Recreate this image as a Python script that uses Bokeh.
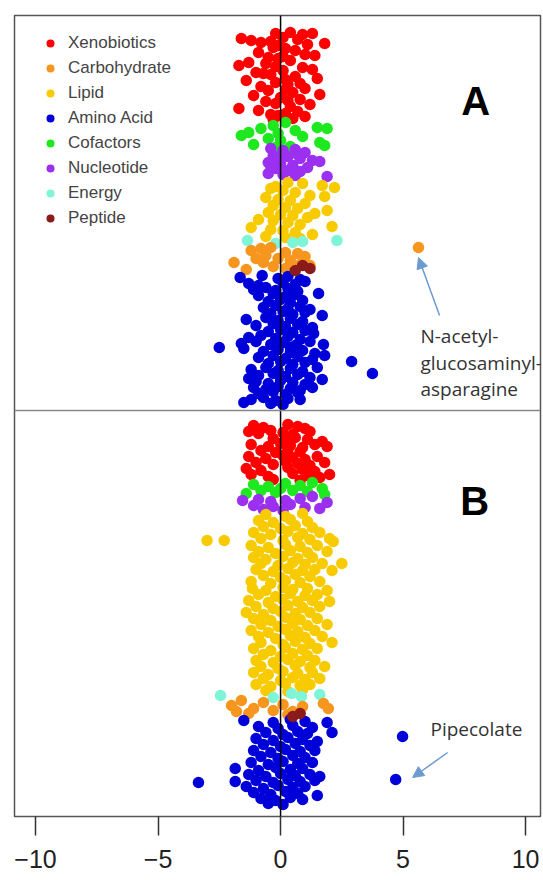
from bokeh.plotting import figure
from bokeh.models import (Range1d, Span, Label, Arrow, NormalHead, Legend, LegendItem,
                          FixedTicker, ColumnDataSource)
from bokeh.embed import file_html
from bokeh.resources import INLINE

categories = ["Xenobiotics", "Carbohydrate", "Lipid", "Amino Acid",
              "Cofactors", "Nucleotide", "Energy", "Peptide"]
colors = ["#FF0000", "#F7961E", "#F7CB00", "#0000D8",
          "#1EE81E", "#9B30F0", "#7FF5D8", "#8B1A1A"]

tick_values = [-10, -5, 0, 5, 10]
tick_labels = ["\u221210", "\u22125", "0", "5", "10"]

# (effect, strip position) pairs; panel A above, panel B below
a_xenobiotics = [(-0.2,33),(0.4,32),(0.9,34),(1.3,33),(-1.6,38),(-1.2,40),(-0.8,42),(-0.4,41),(0.1,37),(0.7,39),
    (1.1,44),(1.8,43),(-0.3,47),(0.2,48),(0.6,50),(-0.9,52),(1.0,54),(1.4,55),(-0.1,58),(0.4,60),(-0.6,63),(-1.3,62),
    (-1.7,65),(0.9,67),(1.3,69),(0.1,70),(-1.0,72),(-0.4,74),(0.6,76),(1.5,78),(-1.4,80),(-0.2,82),(0.3,84),(-0.8,86),
    (1.0,88),(-0.5,90),(0.5,92),(1.6,94),(-1.1,95),(0.0,97),(0.8,99),(-0.6,101),(-0.2,103),(1.2,104),(0.4,106),
    (-1.7,108),(-0.9,110),(0.7,111),(0.2,113),(-0.4,114),(1.0,116),(-0.1,115),(-0.1,45),(0.1,56),(-0.2,66),(0.2,79),
    (0.2,89),(0.3,100),(-0.5,57),(0.8,83),(-0.7,73),(0.5,118),(-0.3,119)]
a_cofactors = [(-0.3,125),(0.2,122),(-0.8,128),(-1.3,132),(-1.6,135),(0.6,130),(1.5,127),(1.9,128),(-0.5,138),
    (0.0,140),(0.9,136),(1.6,142),(1.8,145),(-1.1,144),(-0.2,147),(-0.1,133),(0.4,146)]
a_nucleotide = [(-0.4,148),(0.1,150),(0.6,149),(1.0,152),(-0.3,155),(0.3,156),(0.8,158),(1.3,160),(-0.5,162),
    (0.0,163),(0.5,165),(1.1,167),(-0.2,168),(0.3,170),(0.8,171),(-0.5,173),(0.1,174),(0.6,175),(1.9,176),
    (-0.1,158),(-0.4,166),(0.7,154),(1.6,161)]
a_lipid = [(0.3,182),(0.9,183),(1.7,185),(2.2,187),(-0.4,188),(0.1,190),(0.6,192),(1.2,195),(-0.6,197),(-0.1,199),
    (0.4,200),(1.0,203),(-0.3,205),(0.2,207),(0.7,208),(1.9,210),(-0.5,212),(0.0,214),(0.5,215),(1.1,217),(-0.9,219),
    (-0.3,220),(0.3,222),(0.8,224),(2.1,226),(-1.2,227),(-0.4,229),(0.1,230),(0.6,232),(1.3,234),(-0.6,236),(0.2,237),
    (0.8,238),(-0.2,186),(1.8,196),(1.4,213)]
a_energy = [(-1.35,240),(2.3,240),(0.5,242),(0.9,241),(-0.2,243)]
a_carbohydrate = [(-0.8,248),(-0.4,247),(-1.2,250),(0.2,252),(0.7,253),(-0.6,255),(1.0,256),(-1.0,258),(-0.1,258),
    (0.4,260),(-1.9,262),(-0.7,262),(0.8,264),(-0.3,266),(1.2,265),(0.2,268),(-1.4,269),(5.63,247)]
a_peptide = [(0.9,265),(1.2,268),(0.6,270)]
a_amino = [(-1.65,277),(-0.75,275),(-0.1,278),(0.3,276),(0.8,279),(-1.3,283),(-0.9,285),(0.1,282),(0.6,284),(1.0,281),
    (-1.1,289),(-0.6,287),(-0.2,290),(0.3,288),(0.7,291),(-0.9,295),(-0.3,293),(0.2,296),(0.6,294),(1.55,293),
    (-0.5,301),(0.0,299),(0.4,302),(0.9,300),(-0.7,307),(-0.2,305),(0.3,308),(0.8,306),(1.2,309),
    (-0.4,313),(0.1,311),(0.5,314),(1.0,312),(1.7,315),(-1.4,319),(-0.6,317),(-0.1,320),(0.4,318),(0.9,321),
    (-1.0,325),(-0.3,323),(0.2,326),(0.7,324),(1.3,327),(-0.5,331),(0.0,329),(0.5,332),(1.0,330),(1.35,333),
    (-1.3,337),(-0.8,335),(-0.2,338),(0.3,336),(0.8,339),(-1.6,343),(-1.0,341),(-0.4,344),(0.1,342),(0.6,345),
    (1.2,341),(1.75,344),(-2.5,347),(-1.5,348),(0.4,347),(-0.7,351),(-0.1,349),(0.4,352),(0.9,350),(1.4,353),
    (-0.9,357),(-0.3,355),(0.2,358),(0.7,356),(1.3,359),(1.8,355),(2.9,361),(-0.5,363),(0.0,361),(0.5,364),(1.0,362),
    (-1.2,369),(-0.6,367),(-0.1,370),(0.4,368),(0.9,371),(1.5,367),(3.75,373),(-0.9,375),(-0.3,373),(0.2,376),
    (0.7,374),(1.2,377),(-1.3,378),(1.7,379),(-1.0,381),(-0.5,383),(0.0,380),(0.5,382),(1.0,384),
    (-1.1,387),(-0.6,389),(-0.1,386),(0.4,388),(0.8,390),(1.3,387),(-0.9,393),(-0.3,391),(0.2,394),(0.7,392),
    (-1.2,399),(-0.7,397),(-0.2,400),(0.3,398),(0.8,399),(-1.5,402),(-0.4,403),(0.1,404)]

b_xenobiotics = [(-1.1,425),(-0.7,427),(0.3,424),(0.7,426),(1.0,428),(-1.3,431),(-0.9,433),(-0.4,430),(0.1,432),
    (0.5,434),(1.2,431),(-0.3,438),(0.2,440),(0.6,437),(1.1,439),(1.7,441),(-1.2,444),(-0.5,446),(0.0,443),(0.4,445),
    (0.9,447),(1.4,444),(1.9,446),(-0.8,450),(-0.2,452),(0.3,449),(0.8,451),(-1.3,456),(-0.6,458),(0.1,455),
    (0.5,457),(1.0,459),(1.5,456),(-1.0,462),(-0.3,464),(0.2,461),(0.7,463),(1.2,465),(1.8,462),(-1.4,468),
    (-0.8,470),(0.3,467),(0.9,469),(1.4,471),(-1.2,474),(-0.5,476),(0.5,473),(1.1,475),(1.6,477),(2.0,474),
    (-0.3,479),(0.8,480),(1.3,478)]
b_cofactors = [(-1.1,484),(-0.5,486),(0.2,483),(0.8,485),(1.3,482),(1.7,488),(-0.8,490),(-0.2,492),(0.5,490),
    (1.1,491),(1.8,494),(-1.4,493),(0.0,488)]
b_nucleotide = [(-1.55,500),(-0.9,499),(-0.4,501),(0.2,500),(0.8,498),(1.3,496),(1.9,502),(-1.1,505),(-0.3,506),
    (0.4,504),(1.0,507),(-0.7,509),(0.1,510),(1.6,508)]
b_lipid = [(-0.6,514),(0.2,516),(0.9,513),(-0.9,520),(-0.3,522),(0.4,519),(1.1,521),(-0.7,526),(0.0,528),(0.6,525),
    (1.3,527),(-1.1,532),(-0.4,534),(0.3,531),(0.9,533),(1.6,532),(-0.8,538),(0.1,540),(0.7,537),(1.2,539),(2.0,538),
    (-3.0,540),(-2.3,540),(2.15,541),(-1.2,545),(-0.5,547),(0.2,544),(0.8,546),(1.5,545),(-0.9,551),(-0.2,553),
    (0.4,550),(1.1,552),(1.9,551),(-1.1,557),(-0.6,559),(0.1,556),(0.7,558),(1.3,557),(-0.8,563),(-0.1,565),
    (0.5,562),(1.0,564),(1.7,563),(2.5,563),(-1.0,569),(-0.3,571),(0.3,568),(0.9,570),(1.4,569),(2.1,570),
    (-0.7,575),(0.0,577),(0.6,574),(1.2,576),(-1.2,581),(-0.4,583),(0.2,580),(0.8,582),(1.6,581),(-1.15,588),
    (-0.6,590),(0.1,587),(0.5,589),(1.1,588),(1.9,590),(-0.9,594),(-0.2,596),(0.4,593),(1.0,595),(1.5,594),
    (-1.3,600),(-0.5,602),(0.1,599),(0.7,601),(1.3,600),(2.0,601),(-1.0,606),(-0.3,608),(0.3,605),(0.9,607),
    (1.6,606),(-1.4,612),(-0.7,614),(0.0,611),(0.6,613),(1.2,612),(-1.1,618),(-0.4,620),(0.2,617),(0.8,619),
    (1.5,618),(-0.8,624),(-0.1,626),(0.5,623),(1.1,625),(1.9,624),(-1.2,630),(-0.5,632),(0.2,629),(0.7,631),
    (1.4,630),(-0.9,636),(-0.2,638),(0.4,635),(1.0,637),(1.7,636),(-0.8,642),(0.1,644),(0.6,641),(1.2,643),
    (2.1,642),(-1.1,648),(-0.4,650),(0.2,647),(0.9,649),(1.5,648),(-0.7,654),(0.0,656),(0.5,653),(1.1,655),
    (-1.0,660),(-0.3,662),(0.3,659),(0.8,661),(1.4,660),(-0.8,666),(-0.1,668),(0.6,665),(1.2,667),(1.8,666),
    (-1.1,672),(-0.5,674),(0.1,671),(0.7,673),(1.3,672),(-0.7,678),(0.0,680),(0.5,677),(1.0,679),(1.6,678),
    (-1.0,684),(-0.4,686),(0.2,683),(0.8,685),(1.2,684),(-0.6,690),(0.3,691),(0.9,689)]
b_energy = [(-2.45,695),(-0.3,697),(0.45,693),(0.85,696),(1.6,694)]
b_carbohydrate = [(-2.0,705),(-1.6,700),(-1.8,711),(-1.1,708),(-1.3,713),(-0.7,702),(-0.3,710),(0.1,704),(0.5,711),
    (0.9,706),(0.3,714),(1.75,703),(1.95,708)]
b_peptide = [(0.5,716),(0.8,713)]
b_amino = [(-1.5,720),(-0.3,722),(0.4,719),(1.0,721),(1.9,722),(-0.9,726),(-0.1,728),(0.5,725),(1.3,727),
    (-0.6,732),(0.1,734),(0.7,731),(1.1,733),(2.1,732),(-1.0,738),(-0.3,740),(0.3,737),(0.9,739),(1.5,741),
    (-0.7,744),(0.0,746),(0.6,743),(1.2,745),(-1.1,750),(-0.4,752),(0.2,749),(0.8,751),(1.4,750),
    (-0.8,756),(-0.1,758),(0.5,755),(1.0,757),(-1.2,762),(-0.5,764),(0.1,761),(0.7,763),(1.3,762),
    (-1.85,768),(-0.9,770),(-0.2,767),(0.4,769),(0.9,768),(-1.3,774),(-0.6,776),(0.0,773),(0.6,775),(1.2,774),
    (1.6,776),(-1.85,781),(-1.0,780),(-0.3,782),(0.3,779),(0.8,781),(1.4,780),(-3.35,782),(-1.4,786),(-0.7,788),
    (-0.1,785),(0.5,787),(1.0,786),(-1.1,792),(-0.4,794),(0.2,791),(0.7,793),(1.5,795),(-0.8,798),(-0.2,800),
    (0.4,797),(0.9,799),(-0.5,803),(0.1,804),(4.98,736),(4.7,779)]

groups = {
    "Xenobiotics": a_xenobiotics + b_xenobiotics,
    "Cofactors": a_cofactors + b_cofactors,
    "Nucleotide": a_nucleotide + b_nucleotide,
    "Lipid": a_lipid + b_lipid,
    "Energy": a_energy + b_energy,
    "Carbohydrate": a_carbohydrate + b_carbohydrate,
    "Amino Acid": a_amino + b_amino,
    "Peptide": a_peptide + b_peptide,
}
draw_order = ["Xenobiotics", "Cofactors", "Nucleotide", "Lipid", "Energy", "Carbohydrate", "Amino Acid", "Peptide"]
color_of = dict(zip(categories, colors))

p = figure(width=543, height=880, output_backend="svg", toolbar_location=None,
           x_range=Range1d(-10.86, 10.61), y_range=Range1d(816, 15),
           y_axis_location=None, min_border_left=14, min_border_right=3,
           min_border_top=15, min_border_bottom=64)
p.grid.visible = False
p.outline_line_color = "#555555"
p.outline_line_width = 1.5
p.background_fill_color = "white"
p.border_fill_color = "white"

renderers = {}
for cat in draw_order:
    pts = groups[cat]
    src = ColumnDataSource(dict(x=[q[0] for q in pts], y=[q[1] for q in pts]))
    renderers[cat] = p.scatter("x", "y", source=src, size=11.5, fill_color=color_of[cat],
                               line_color=None)

ax = p.xaxis[0]
ax.ticker = FixedTicker(ticks=tick_values)
ax.major_label_overrides = dict(zip(tick_values, tick_labels))
ax.axis_line_color = None
ax.minor_tick_line_color = None
ax.major_tick_in = 0
ax.major_tick_out = 19
ax.major_tick_line_color = "#333333"
ax.major_tick_line_width = 1.5
ax.major_label_text_font = "Liberation Sans"
ax.major_label_text_font_size = "25px"
ax.major_label_text_color = "#222222"
ax.major_label_standoff = 14

p.add_layout(Span(location=0, dimension="height", line_color="black", line_width=1.5))
p.add_layout(Span(location=410, dimension="width", line_color="#888888", line_width=1.5))

legend = Legend(items=[LegendItem(label=c, renderers=[renderers[c]]) for c in categories],
                location="top_left", border_line_color=None, background_fill_alpha=0,
                label_text_font="Liberation Sans", label_text_font_size="17px",
                label_text_color="#444444", glyph_width=36, glyph_height=20,
                label_height=20, spacing=5, margin=18, padding=0, label_standoff=0)
p.add_layout(legend)

panel_font = "Liberation Sans"
p.add_layout(Label(x=7.96, y=100, text="A", text_align="center", text_baseline="middle",
                   text_font=panel_font, text_font_style="bold", text_font_size="40px", text_color="black"))
p.add_layout(Label(x=7.92, y=500, text="B", text_align="center", text_baseline="middle",
                   text_font=panel_font, text_font_style="bold", text_font_size="40px", text_color="black"))

note_font = "Open Sans"
arrow_color = "#6C9BD2"
for txt, yy in [("N-acetyl-", 335), ("glucosaminyl-", 362), ("asparagine", 388)]:
    p.add_layout(Label(x=5.71, y=yy, text=txt, text_baseline="middle", text_font=note_font,
                       text_font_size="19px", text_color="#333333"))
p.add_layout(Label(x=6.12, y=728, text="Pipecolate", text_baseline="middle", text_font=note_font,
                   text_font_size="19px", text_color="#333333"))

p.add_layout(Arrow(end=NormalHead(size=11, fill_color=arrow_color, line_color=arrow_color),
                   x_start=6.49, y_start=315, x_end=5.63, y_end=257,
                   line_color=arrow_color, line_width=1.5))
p.add_layout(Arrow(end=NormalHead(size=11, fill_color=arrow_color, line_color=arrow_color),
                   x_start=6.82, y_start=752, x_end=5.39, y_end=777,
                   line_color=arrow_color, line_width=1.5))

open("out.html", "w").write(file_html(p, INLINE))
